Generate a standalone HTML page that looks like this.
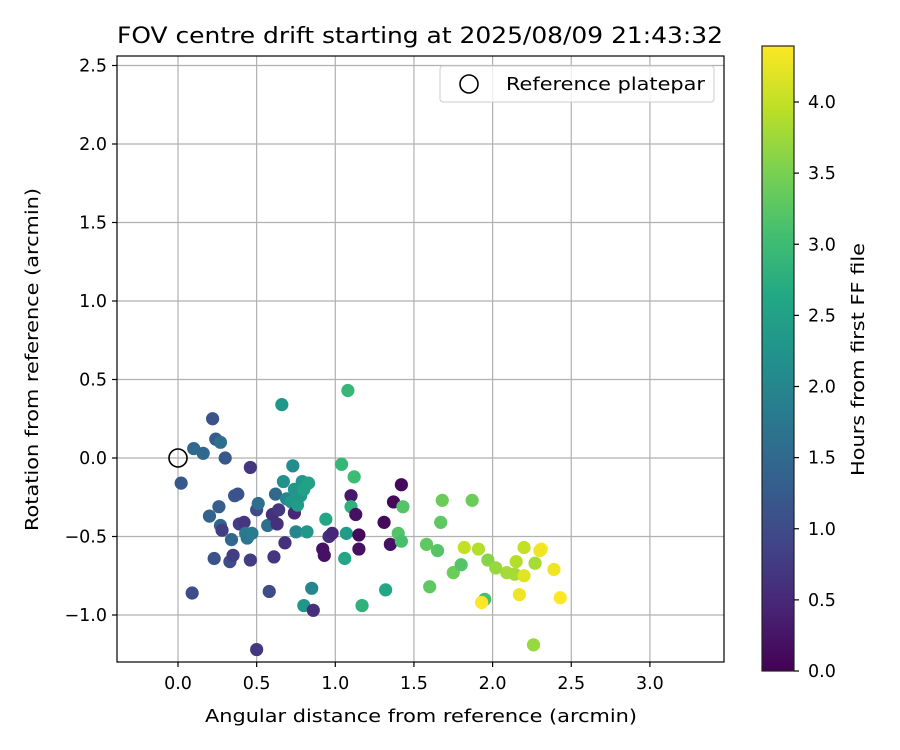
<!DOCTYPE html>
<html><head><meta charset="utf-8"><style>
html,body{margin:0;padding:0;background:#fff;}
svg{display:block;font-family:"DejaVu Sans","Liberation Sans",sans-serif;}
</style></head><body>
<svg id="chart" width="900" height="750" viewBox="0 0 900 750">
<rect width="900" height="750" fill="#fff"/>
<defs>
<linearGradient id="vir" x1="0" y1="1" x2="0" y2="0">
<stop offset="0" stop-color="#440154"/><stop offset="0.1" stop-color="#482475"/><stop offset="0.2" stop-color="#414487"/><stop offset="0.3" stop-color="#355f8d"/><stop offset="0.4" stop-color="#2a788e"/><stop offset="0.5" stop-color="#21918c"/><stop offset="0.6" stop-color="#22a884"/><stop offset="0.7" stop-color="#44bf70"/><stop offset="0.8" stop-color="#7ad151"/><stop offset="0.9" stop-color="#bddf26"/><stop offset="1" stop-color="#fde725"/>
</linearGradient>
<clipPath id="pc"><rect x="117" y="56" width="607" height="606"/></clipPath>
</defs>
<g id="grid"></g>
<g id="pts" clip-path="url(#pc)"></g>
<circle cx="178" cy="458" r="9" fill="none" stroke="#000" stroke-width="1.6"/>
<rect x="117" y="56" width="607" height="606" fill="none" stroke="#000" stroke-width="1.2"/>
<g id="ticks"></g>
<text x="117" y="43" font-size="22" textLength="606" lengthAdjust="spacingAndGlyphs">FOV centre drift starting at 2025/08/09 21:43:32</text>
<text x="205" y="722" font-size="18" textLength="432" lengthAdjust="spacingAndGlyphs">Angular distance from reference (arcmin)</text>
<text transform="translate(38,531) rotate(-90)" font-size="18" textLength="343" lengthAdjust="spacingAndGlyphs">Rotation from reference (arcmin)</text>
<g>
<rect x="440" y="66" width="274" height="36" rx="3" fill="#fff" fill-opacity="0.8" stroke="#ccc"/>
<circle cx="469" cy="84" r="9" fill="none" stroke="#000" stroke-width="1.6"/>
<text x="506" y="90" font-size="18" textLength="199" lengthAdjust="spacingAndGlyphs">Reference platepar</text>
</g>
<rect x="762" y="46" width="32" height="625" fill="url(#vir)" stroke="#222" stroke-width="1.2"/>
<g id="cbt"></g>
<text transform="translate(864,476) rotate(-90)" font-size="18" textLength="233" lengthAdjust="spacingAndGlyphs">Hours from first FF file</text>
</svg>
<script>
const xs=[0.02,0.10,0.16,0.22,0.24,0.27,0.30,0.09,0.46,0.20,0.26,0.23,0.27,0.28,0.33,0.35,0.34,0.36,0.38,0.39,0.42,0.43,0.44,0.47,0.46,0.50,0.51,0.50,0.57,0.58,0.60,0.61,0.62,0.63,0.64,0.66,0.67,0.68,0.69,0.72,0.73,0.74,0.74,0.75,0.76,0.78,0.79,0.80,0.80,0.82,0.83,0.85,0.86,0.92,0.93,0.94,0.96,0.98,1.04,1.06,1.07,1.08,1.10,1.10,1.12,1.13,1.15,1.15,1.17,1.31,1.32,1.35,1.37,1.40,1.42,1.42,1.43,1.58,1.60,1.65,1.67,1.68,1.75,1.80,1.82,1.87,1.91,1.95,1.93,1.97,2.02,2.09,2.14,2.15,2.17,2.20,2.20,2.27,2.26,2.31,2.30,2.39,2.43];
const ys=[-0.16,0.06,0.03,0.25,0.12,0.10,0.00,-0.86,-0.06,-0.37,-0.31,-0.64,-0.43,-0.46,-0.66,-0.62,-0.52,-0.24,-0.23,-0.42,-0.41,-0.48,-0.51,-0.48,-0.65,-0.33,-0.29,-1.22,-0.43,-0.85,-0.36,-0.63,-0.23,-0.42,-0.33,0.34,-0.15,-0.54,-0.26,-0.28,-0.05,-0.20,-0.35,-0.47,-0.30,-0.24,-0.15,-0.20,-0.94,-0.47,-0.16,-0.83,-0.97,-0.58,-0.62,-0.39,-0.50,-0.48,-0.04,-0.64,-0.48,0.43,-0.24,-0.31,-0.12,-0.36,-0.49,-0.58,-0.94,-0.41,-0.84,-0.55,-0.28,-0.48,-0.17,-0.53,-0.31,-0.55,-0.82,-0.59,-0.41,-0.27,-0.73,-0.68,-0.57,-0.27,-0.58,-0.90,-0.92,-0.65,-0.70,-0.73,-0.74,-0.66,-0.87,-0.57,-0.75,-0.67,-1.19,-0.58,-0.59,-0.71,-0.89];
const hours=[1.2,1.5,1.5,1.1,1.3,1.6,1.2,1.0,0.7,1.4,1.3,1.1,1.4,0.8,1.0,0.8,1.5,1.2,1.1,0.8,0.7,1.8,1.7,1.8,0.8,1.0,1.6,0.7,1.6,1.0,0.6,0.7,1.5,0.6,0.7,2.3,2.2,0.6,2.0,2.3,2.1,2.3,0.5,2.0,2.4,2.3,2.3,2.5,2.3,2.3,2.5,2.0,0.6,0.2,0.2,2.6,0.6,0.5,2.9,2.6,2.4,2.9,0.3,2.8,3.0,0.2,0.1,0.2,2.8,0.1,2.6,0.2,0.1,3.2,0.1,3.1,3.2,3.3,3.3,3.2,3.3,3.4,3.4,3.2,4.0,3.4,3.9,3.1,4.4,3.6,3.7,3.8,3.8,3.9,4.3,4.0,4.2,3.8,3.7,4.4,4.3,4.3,4.4];
const xTicks=["0.0","0.5","1.0","1.5","2.0","2.5","3.0"];
const yTicks=["−1.0","−0.5","0.0","0.5","1.0","1.5","2.0","2.5"];
const cTicks=["0.0","0.5","1.0","1.5","2.0","2.5","3.0","3.5","4.0"];
const X=v=>178+v*157.3, Y=v=>458-v*157, C=v=>671-v*142.25, VMAX=4.39;
const stops=[[68,1,84],[72,36,117],[65,68,135],[53,95,141],[42,120,142],[33,145,140],[34,168,132],[68,191,112],[122,209,81],[189,223,38],[253,231,37]];
function vir(t){t=Math.max(0,Math.min(1,t))*10;const i=Math.min(9,Math.floor(t)),f=t-i,a=stops[i],b=stops[i+1];return `rgb(${a.map((c,k)=>Math.round(c+(b[k]-c)*f)).join(',')})`;}
const NS="http://www.w3.org/2000/svg";
function mk(tag,attrs,parent){const e=document.createElementNS(NS,tag);for(const k in attrs)e.setAttribute(k,attrs[k]);parent.appendChild(e);return e;}
const grid=document.getElementById('grid'),ticks=document.getElementById('ticks'),pts=document.getElementById('pts'),cbt=document.getElementById('cbt');
xTicks.forEach(s=>{const v=parseFloat(s),x=X(v);
 const g=mk('line',{x1:x,x2:x,y1:56,y2:662,stroke:'#b0b0b0','stroke-width':1.2},grid);
 
 
 const t=mk('line',{x1:x,x2:x,y1:662,y2:667,stroke:'#000','stroke-width':1.2},ticks);
 
 
 const l=mk('text',{x:x,y:689,'text-anchor':'middle','font-size':'17.5'},ticks);l.textContent=s;
 
 });
yTicks.forEach(s=>{const v=parseFloat(s.replace('−','-')),y=Y(v);
 const g=mk('line',{x1:117,x2:724,y1:y,y2:y,stroke:'#b0b0b0','stroke-width':1.2},grid);
 
 
 const t=mk('line',{x1:112,x2:117,y1:y,y2:y,stroke:'#000','stroke-width':1.2},ticks);
 
 
 const l=mk('text',{x:107,y:y+6,'text-anchor':'end','font-size':'17.5'},ticks);l.textContent=s;
 
 });
xs.forEach((v,i)=>{const c=mk('circle',{cx:X(v),cy:Y(ys[i]),r:6.6,fill:vir(hours[i]/VMAX)},pts);
 
 });
cTicks.forEach(s=>{const v=parseFloat(s),y=C(v);
 const t=mk('line',{x1:794,x2:799,y1:y,y2:y,stroke:'#000','stroke-width':1.2},cbt);
 
 
 const l=mk('text',{x:808,y:y+6,'font-size':'17.5'},cbt);l.textContent=s;
 
 });
</script>
</body></html>
